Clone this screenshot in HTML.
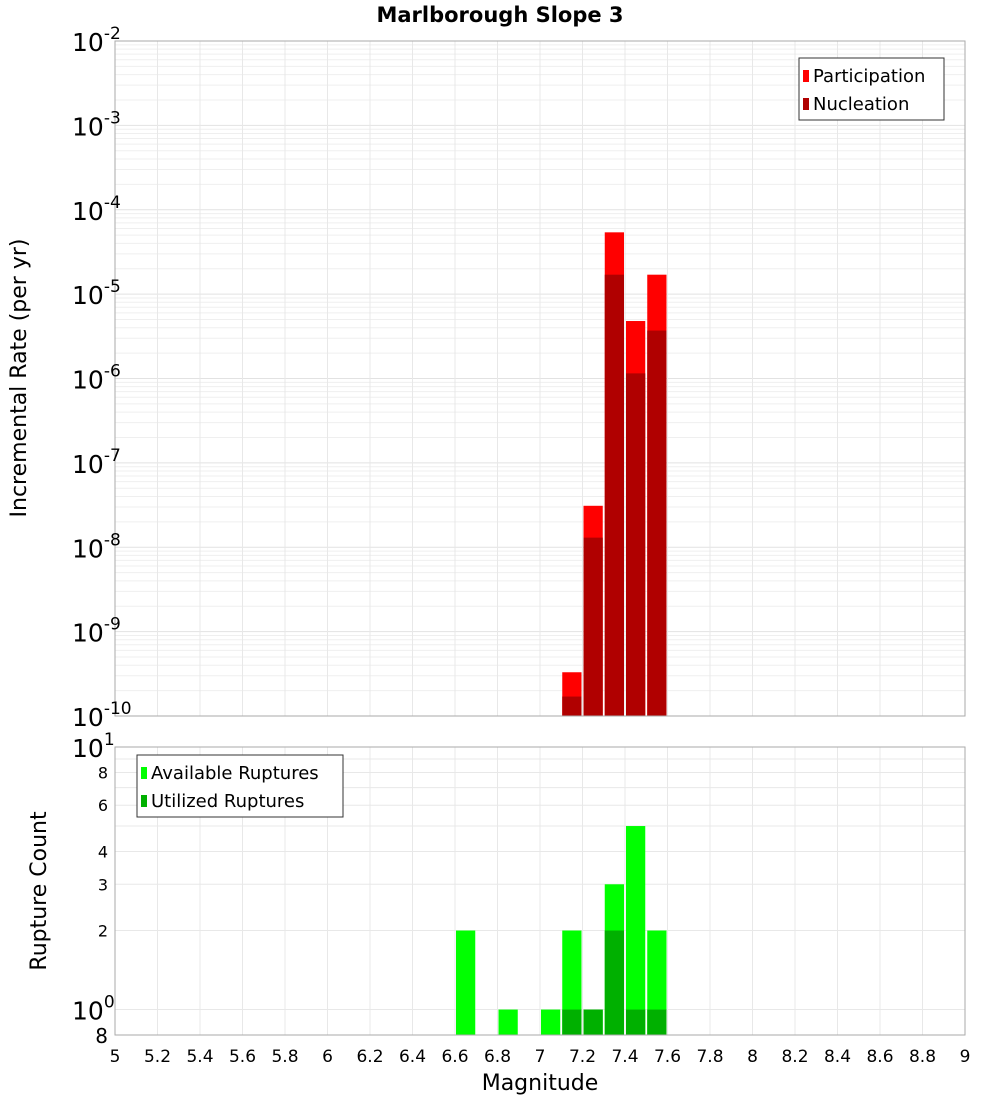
<!DOCTYPE html>
<html><head><meta charset="utf-8"><style>
body{margin:0;background:#fff;font-family:"DejaVu Sans","Liberation Sans",sans-serif}
</style></head><body>
<svg id="c" width="1000" height="1100" xmlns="http://www.w3.org/2000/svg" font-family="DejaVu Sans, Liberation Sans, sans-serif">
<text x="500" y="22" text-anchor="middle" font-size="21" font-weight="bold">Marlborough Slope 3</text>
<g id="topg"></g><g id="botg"></g>
</svg>
<script>
const bins=[6.65,6.85,7.05,7.15,7.25,7.35,7.45,7.55];
const participation=[null,null,null,3.3e-10,3.1e-8,5.4e-5,4.8e-6,1.7e-5];
const nucleation=[null,null,null,1.7e-10,1.3e-8,1.7e-5,1.15e-6,3.7e-6];
const available=[2,1,1,2,1,3,5,2];
const utilized=[null,null,null,1,1,2,1,1];
const xTicks=[5,5.2,5.4,5.6,5.8,6,6.2,6.4,6.6,6.8,7,7.2,7.4,7.6,7.8,8,8.2,8.4,8.6,8.8,9];
const NS="http://www.w3.org/2000/svg";
const X0=115,X1=965;
const sx=v=>X0+(v-5)/4*(X1-X0);
const T0=41,T1=716;
const sy=v=>T1-(Math.log10(v)+10)/8*(T1-T0);
const B0=747,B1=1035;
const by=v=>B1-(Math.log10(v)-Math.log10(0.8))/(1-Math.log10(0.8))*(B1-B0);
function mk(p,t,a){const e=document.createElementNS(NS,t);for(const k in a)e.setAttribute(k,a[k]);p.appendChild(e);return e;}
const topG=document.getElementById('topg'),botG=document.getElementById('botg');
for(let d=-10;d<-2;d++)for(let m=1;m<10;m++){const y=sy(m*Math.pow(10,d));const l=mk(topG,'line',{x1:X0,x2:X1,y1:y,y2:y,stroke:m==1?'#e2e2e2':'#efefef','stroke-width':1});

}
xTicks.forEach(t=>{const x=sx(t);const l=mk(topG,'line',{x1:x,x2:x,y1:T0,y2:T1,stroke:'#e8e8e8'});


const l2=mk(botG,'line',{x1:x,x2:x,y1:B0,y2:B1,stroke:'#e8e8e8'});


const tx=mk(botG,'text',{x:x,y:1062,'font-size':17,'text-anchor':'middle'});tx.textContent=String(t);

});
for(let m=1;m<=10;m++){const y=by(m);if(y<B0-1)continue;const l=mk(botG,'line',{x1:X0,x2:X1,y1:y,y2:y,stroke:'#e8e8e8'});

}
const w=(X1-X0)/40;
bins.forEach((b,i)=>{const x=sx(b)-w/2+1;
if(participation[i]){const r=mk(topG,'rect',{x:x,y:sy(participation[i]),width:w-2,height:T1-sy(participation[i]),fill:'#ff0000'});

}
if(nucleation[i]){const r=mk(topG,'rect',{x:x,y:sy(nucleation[i]),width:w-2,height:T1-sy(nucleation[i]),fill:'#b00000'});

}
if(available[i]){const r=mk(botG,'rect',{x:x,y:by(available[i]),width:w-2,height:B1-by(available[i]),fill:'#00ff00'});

}
if(utilized[i]){const r=mk(botG,'rect',{x:x,y:by(utilized[i]),width:w-2,height:B1-by(utilized[i]),fill:'#00b000'});

}
});
let f=mk(topG,'rect',{x:X0,y:T0,width:X1-X0,height:T1-T0,fill:'none',stroke:'#aaa'});


f=mk(botG,'rect',{x:X0,y:B0,width:X1-X0,height:B1-B0,fill:'none',stroke:'#aaa'});


function sup(p,x,y,base,exp){const t=mk(p,'text',{x:x,y:y,'font-size':25});const a=mk(t,'tspan',{});a.textContent=base;const b=mk(t,'tspan',{dy:-12,'font-size':17});b.textContent=exp;return t;}
for(let d=-10;d<=-2;d++){const t=sup(topG,72,sy(Math.pow(10,d))+10,'10',String(d));

}
[[10,1],[1,0]].forEach(a=>{const t=sup(botG,72,by(a[0])+10,'10',String(a[1]));

});
[8,6,4,3,2].forEach(v=>{const t=mk(botG,'text',{x:108,y:by(v)+6,'font-size':16,'text-anchor':'end'});t.textContent=v;

});
{const t=mk(botG,'text',{x:108,y:1043,'font-size':20,'text-anchor':'end'});t.textContent='8';

}
let a=mk(topG,'text',{x:0,y:0,'font-size':22,'text-anchor':'middle',transform:'translate(26,378) rotate(-90)'});a.textContent='Incremental Rate (per yr)';


a=mk(botG,'text',{x:0,y:0,'font-size':22,'text-anchor':'middle',transform:'translate(46,891) rotate(-90)'});a.textContent='Rupture Count';


a=mk(botG,'text',{x:540,y:1090,'font-size':22,'text-anchor':'middle'});a.textContent='Magnitude';


function legend(p,x,y,w,items,name){const g=mk(p,'g',{});


mk(g,'rect',{x:x,y:y,width:w,height:62,fill:'#fff',stroke:'#333'});
items.forEach((it,i)=>{mk(g,'rect',{x:x+4,y:y+12+i*28,width:6,height:12,fill:it[1]});const t=mk(g,'text',{x:x+14,y:y+24+i*28,'font-size':18});t.textContent=it[0];});}
legend(topG,799,58,145,[['Participation','#ff0000'],['Nucleation','#b00000']],'top-legend');
legend(botG,137,755,206,[['Available Ruptures','#00ff00'],['Utilized Ruptures','#00b000']],'bottom-legend');
</script>
</body></html>
